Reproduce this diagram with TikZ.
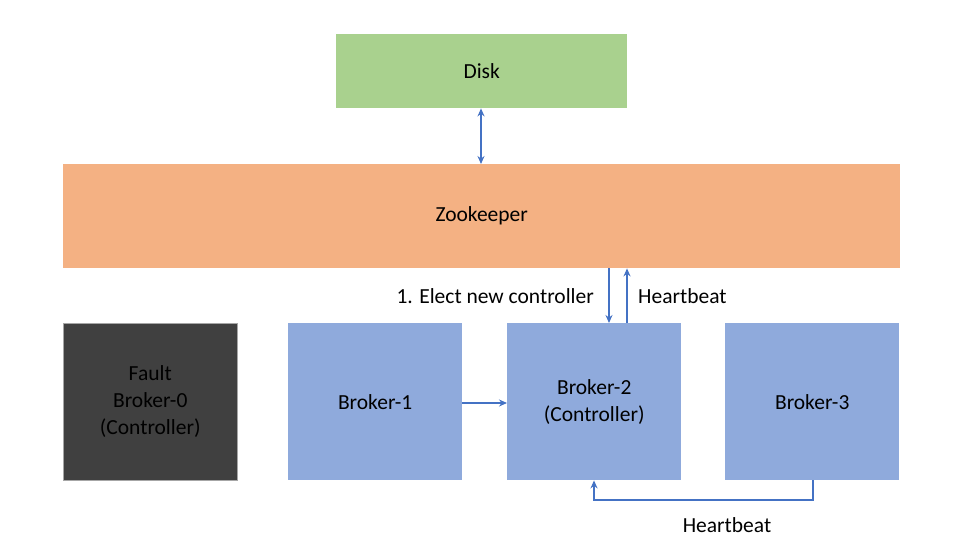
\documentclass[tikz,border=0pt]{standalone}
\usepackage{fontspec}
\setmainfont{Carlito}
\usetikzlibrary{arrows.meta}
\definecolor{diskgreen}{HTML}{A9D18E}
\definecolor{zkorange}{HTML}{F4B183}
\definecolor{brokerblue}{HTML}{8FAADC}
\definecolor{faultgrey}{HTML}{404040}
\definecolor{arrowblue}{HTML}{4472C4}
\tikzset{
  box/.style={draw=none, anchor=north west, inner sep=0pt, align=center,
    font=\fontsize{21.5}{27}\selectfont},
  conn/.style={draw=arrowblue, line width=1.3pt, -{Stealth[length=8pt,width=7pt]}},
  lbl/.style={font=\fontsize{21.5}{27}\selectfont, inner sep=0pt}
}
\begin{document}
\begin{tikzpicture}[x=1pt,y=-1pt]
\useasboundingbox (0,0) rectangle (960,540);
\node[box, fill=diskgreen, minimum width=291pt, minimum height=74pt] (disk) at (336,34) {Disk};
\node[box, fill=zkorange, minimum width=837pt, minimum height=104pt] (zk) at (63,164) {Zookeeper};
\node[box, fill=faultgrey, draw=gray!70, line width=0.5pt, text=black, minimum width=174pt, minimum height=157pt] (b0) at (63,323) {\color{black}Fault\\\color{black}Broker-0\\\color{black}(Controller)};
\node[box, fill=brokerblue, minimum width=174pt, minimum height=157pt] (b1) at (288,323) {Broker-1};
\node[box, fill=brokerblue, minimum width=174pt, minimum height=157pt] (b2) at (507,323) {Broker-2\\(Controller)};
\node[box, fill=brokerblue, minimum width=174pt, minimum height=157pt] (b3) at (725,323) {Broker-3};

\coordinate (dz) at (481,0);
\draw[conn, {Stealth[length=8pt,width=7pt]}-{Stealth[length=8pt,width=7pt]}] (disk.south -| dz) -- (zk.north -| dz);

\coordinate (elect) at (609,0);
\coordinate (hb) at (627,0);
\draw[conn] (zk.south -| elect) -- (b2.north -| elect);
\draw[conn] (b2.north -| hb) -- (zk.south -| hb);
\node[lbl, anchor=east] (electlbl) at (594,296) {1. Elect new controller};
\node[lbl, anchor=west] (hblbl) at (638,296) {Heartbeat};

\draw[conn] (b1.east |- 0,403) -- (b2.west |- 0,403);

\coordinate (b3x) at (813,0);
\coordinate (b2x) at (594,0);
\coordinate (loop) at (0,500);
\draw[conn] (b3.south -| b3x) -- (b3x |- loop) -- (b2x |- loop) -- (b2.south -| b2x);
\node[lbl] (hb2lbl) at (727,525) {Heartbeat};
\end{tikzpicture}
\end{document}
